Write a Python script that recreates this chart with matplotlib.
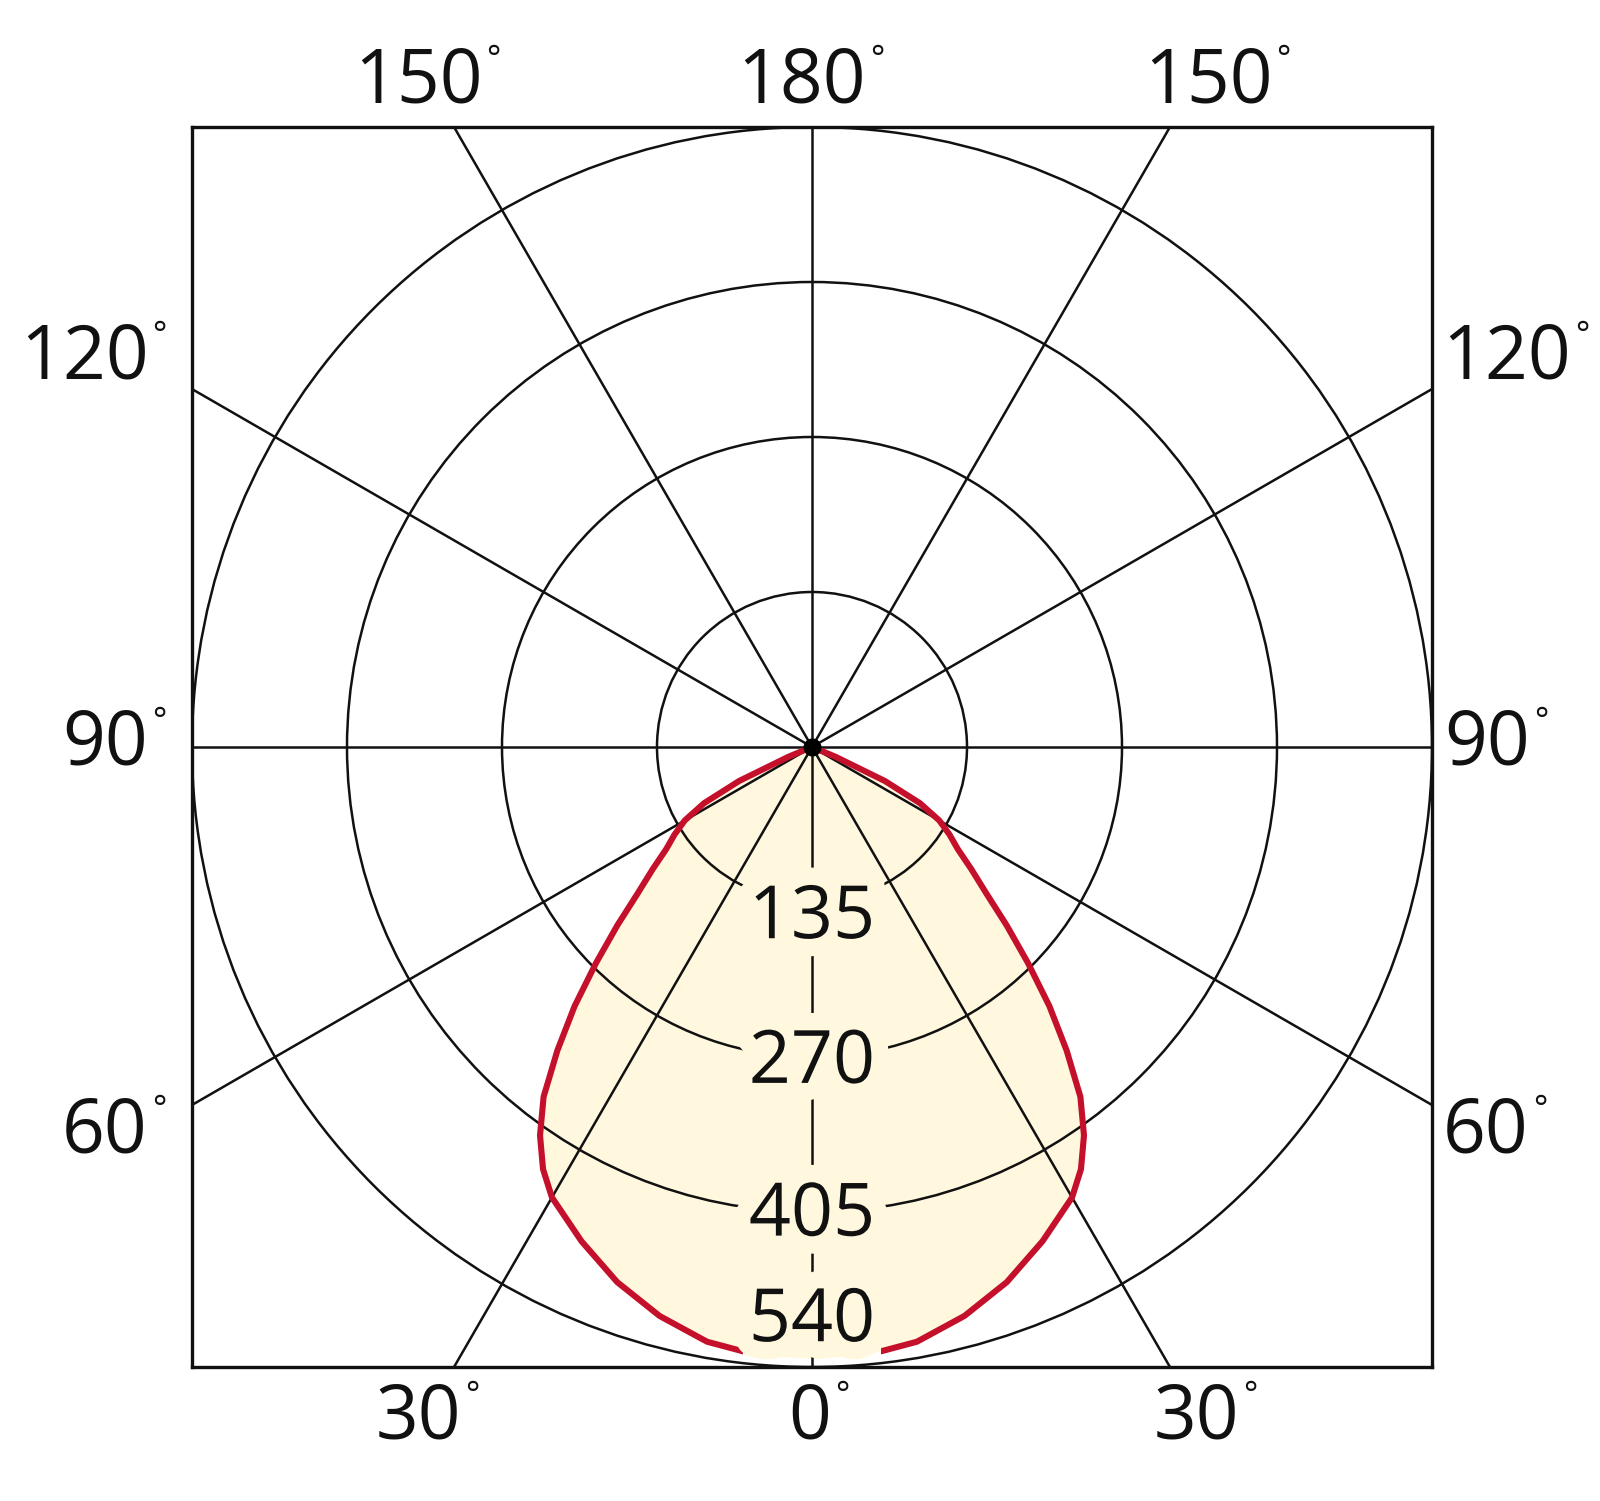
import matplotlib.pyplot as plt
import matplotlib.patches as patches
import matplotlib.patheffects as pe
import numpy as np

# light distribution (candela), angle measured from nadir, same curve both sides
angles = [0, 5, 10, 15, 20, 25, 30, 32.5, 35, 37.5, 40, 42.5, 45, 47.5,
          50, 52.5, 55, 57.5, 60, 62.5, 65, 67.5, 70, 80, 90]
intensity = [533, 532, 526, 513, 496, 475, 453, 436, 413, 384, 345, 306, 266, 230,
             198, 175, 155, 142, 128, 106, 70, 22, 0, 0, 0]

rings = [135, 270, 405, 540]
ring_labels = ["135", "270", "405", "540"]
spokes = [0, 30, 60, 90, 120, 150, 180, 210, 240, 270, 300, 330]

angle_labels = ["180", "150", "150", "120", "120", "90", "90", "60", "60", "30", "0", "30"]

# label positions in data units (label placement only)
angle_label_xy = [(-9, 578), (-343, 578), (345, 578),
                  (-634, 338), (605, 338),
                  (-616, 2), (588, 2),
                  (-616, -336), (587, -336),
                  (-343, -585), (-2, -585), (335, -585)]
ring_label_y = [-150, -276, -409, -501]

red = "#c5102c"
cream = "#fff8de"
ink = "#111111"

plt.rcParams['font.family'] = ['Open Sans', 'DejaVu Sans']

fig = plt.figure(figsize=(16, 15.01), dpi=100)
ax = fig.add_axes([192 / 1600, 1 - 1367 / 1501, 1240 / 1600, 1240 / 1501])
ax.set_xlim(-540, 540)
ax.set_ylim(-540, 540)
ax.set_xticks([])
ax.set_yticks([])
for s in ax.spines.values():
    s.set_linewidth(2.4)
    s.set_color(ink)
    s.set_zorder(5)

# full curve: left side then right side
a = np.radians(angles)
I = np.array(intensity, dtype=float)
xl, yl = -I * np.sin(a), -I * np.cos(a)
xr, yr = I * np.sin(a), -I * np.cos(a)
xs = np.concatenate([xl[::-1], xr])
ys = np.concatenate([yl[::-1], yr])

ax.fill(xs, ys, color=cream, zorder=1, lw=0)

# grid
for r in rings:
    ax.add_patch(patches.Circle((0, 0), r, fill=False, lw=1.8, ec=ink, zorder=2))
for sp in spokes:
    t = np.radians(sp)
    ax.plot([0, 1000 * np.sin(t)], [0, -1000 * np.cos(t)], color=ink, lw=1.8, zorder=2)
ax.plot(0, 0, "o", color="black", ms=12, zorder=6)

# red outline, with a notch cut out under the 540 label
line, = ax.plot(xs, ys, color=red, lw=4.4, zorder=3, solid_capstyle="butt",
                solid_joinstyle="round")
notch = patches.Polygon([(-700, -700), (-60, -700), (-60, -470), (60, -470), (60, -700),
                         (700, -700), (700, 700), (-700, 700)],
                        transform=ax.transData, fill=False, lw=0)
line.set_clip_path(notch)

# ring values, masked from the grid by a thick cream halo
for lab, y in zip(ring_labels, ring_label_y):
    ax.text(0, y, lab, ha="center", va="center", fontsize=53, color=ink, zorder=4,
            path_effects=[pe.withStroke(linewidth=25, foreground=cream)])

for lab, (x, y) in zip(angle_labels, angle_label_xy):
    t = ax.text(x, y, lab, ha="center", va="center", fontsize=54, color=ink, clip_on=False)
    ax.annotate("°", xy=(1, 1), xycoords=t, xytext=(3, 1), textcoords="offset points",
                ha="left", va="top", fontsize=24, color=ink)

fig.savefig("out.png", dpi=100)
